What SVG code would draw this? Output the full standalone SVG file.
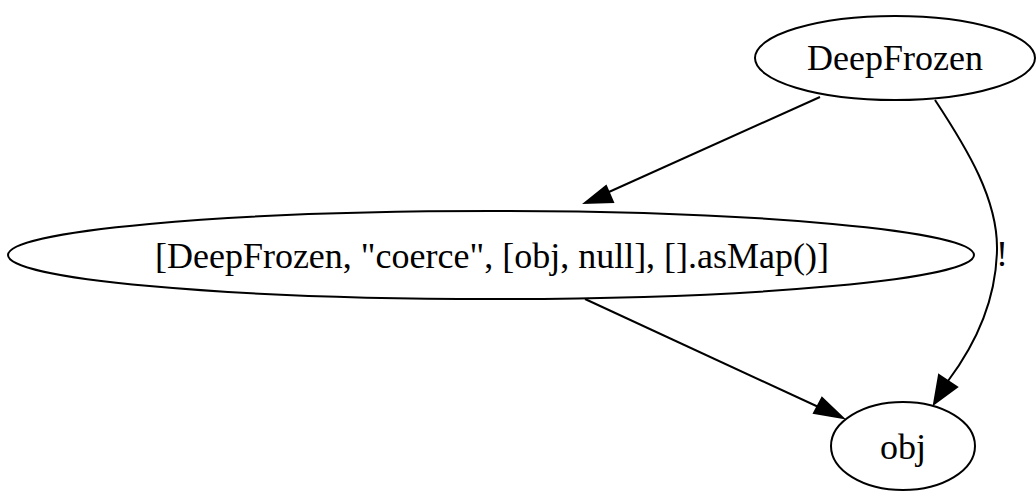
<svg xmlns="http://www.w3.org/2000/svg" width="1036" height="491" viewBox="0 0 1036 491">
  <style>
    .node ellipse { fill: none; stroke: #000; stroke-width: 2; }
    .node text, .edge text { font-family: "Liberation Serif", "Times New Roman", serif; font-size: 36px; fill: #000; text-anchor: middle; }
    .edge path { fill: none; stroke: #000; stroke-width: 2; }
    .edge polygon { fill: #000; stroke: #000; stroke-width: 2; }
  </style>
  <rect width="1036" height="491" fill="#fff"/>

  <g id="connectors">
    <!-- DeepFrozen -> call expression -->
    <g class="edge" id="e_deepfrozen_call">
      <path d="M820,97 L600,196"/>
      <polygon points="606,186 613,202 585,203"/>
    </g>
    <!-- call expression -> obj -->
    <g class="edge" id="e_call_obj">
      <path d="M585,299 L825,410"/>
      <polygon points="822,398 814,413 843,418"/>
    </g>
    <!-- DeepFrozen -> obj, labelled "!" -->
    <g class="edge" id="e_deepfrozen_obj">
      <path d="M935,100 C968,150 998,200 997,250 C996,300 975,345 948,381"/>
      <polygon points="939,375 957,387 934,404"/>
      <text x="1002" y="266">!</text>
    </g>
  </g>

  <g class="node" id="n_deepfrozen">
    <ellipse cx="895" cy="58" rx="140" ry="42"/>
    <text x="895" y="70">DeepFrozen</text>
  </g>

  <g class="node" id="n_call">
    <ellipse cx="491" cy="255" rx="483" ry="44"/>
    <text x="492" y="268">[DeepFrozen, "coerce", [obj, null], [].asMap()]</text>
  </g>

  <g class="node" id="n_obj">
    <ellipse cx="903" cy="446" rx="72" ry="44"/>
    <text x="903" y="459">obj</text>
  </g>
</svg>
